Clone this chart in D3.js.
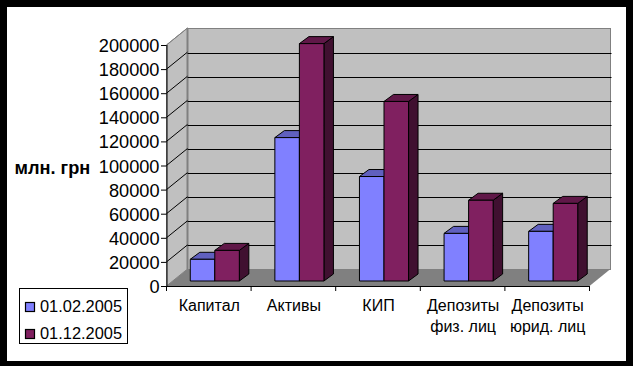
<!DOCTYPE html>
<html>
<head>
<meta charset="utf-8">
<script src="https://cdn.jsdelivr.net/npm/d3@7"></script>
<style>
  html, body { margin: 0; padding: 0; background: #000; }
  svg { display: block; font-family: "Liberation Sans", Arial, sans-serif; }
</style>
</head>
<body>
<div id="chart"></div>
<script>
var categories = ["Капитал", "Активы", "КИП", "Депозиты физ. лиц", "Депозиты юрид. лиц"];
var categoryLines = [["Капитал"], ["Активы"], ["КИП"], ["Депозиты", "физ. лиц"], ["Депозиты", "юрид. лиц"]];
var seriesNames = ["01.02.2005", "01.12.2005"];
var values1 = [18000, 119000, 86700, 39500, 41200];
var values2 = [25400, 197000, 149000, 67000, 64400];
var yTicks = [0, 20000, 40000, 60000, 80000, 100000, 120000, 140000, 160000, 180000, 200000];
var yTitle = "млн. грн";

var w = 633, h = 366;
var left = 166.5, right = 589.5, top0 = 45, bottom = 286; // front plane of the plot
var wallDx = 21, wallDy = 17;  // depth of the whole box
var barOffX = 6, barOffY = 5;  // where bars stand on the floor
var barDx = 9.5, barDy = 7;    // depth of one bar

var frontColors = ["#8080ff", "#802060"];
var topColors = ["#6060bf", "#601848"];
var sideColors = ["#404080", "#401030"];

var x = d3.scaleBand().domain(categories).range([left, right]).paddingInner(0.42).paddingOuter(0.21);
var xInner = d3.scaleBand().domain(d3.range(2)).range([0, x.bandwidth()]);
var y = d3.scaleLinear().domain([0, 200000]).range([bottom, top0]);

var svg = d3.select("#chart").append("svg").attr("width", w).attr("height", h);

// white page inside the black frame
svg.append("rect").attr("x", 7).attr("y", 7).attr("width", 619).attr("height", 354).attr("fill", "#fff");

function pts(a) { return a.map(function(p) { return p.join(","); }).join(" "); }

// back wall, side wall, floor
svg.append("rect")
   .attr("x", left + wallDx).attr("y", top0 - wallDy + 0.5)
   .attr("width", right - left).attr("height", bottom - top0)
   .attr("fill", "#c0c0c0").attr("stroke", "#808080").attr("stroke-width", 1);
svg.append("polygon")
   .attr("points", pts([[left, top0], [left + wallDx, top0 - wallDy], [left + wallDx, bottom - wallDy], [left, bottom]]))
   .attr("fill", "#c0c0c0").attr("stroke", "#808080");
svg.append("line")
   .attr("x1", left + wallDx).attr("x2", left + wallDx)
   .attr("y1", top0 - wallDy).attr("y2", bottom - wallDy)
   .attr("stroke", "#808080").attr("stroke-width", 2);
svg.append("polygon")
   .attr("points", pts([[left, bottom], [left + wallDx, bottom - wallDy], [right + wallDx, bottom - wallDy], [right, bottom]]))
   .attr("fill", "#808080");

// grid lines on both walls
var grid = yTicks.filter(function(d) { return d > 0 && d < 200000; });
svg.selectAll(".grid").data(grid).enter().append("line")
   .attr("x1", left + wallDx).attr("x2", right + wallDx + 1)
   .attr("y1", function(d) { return Math.ceil(y(d) - wallDy) + 0.5; })
   .attr("y2", function(d) { return Math.ceil(y(d) - wallDy) + 0.5; })
   .attr("stroke", "#000").attr("stroke-width", 1);
svg.selectAll(".gridSide").data(yTicks.slice(1)).enter().append("line")
   .attr("x1", left).attr("x2", left + wallDx)
   .attr("y1", function(d) { return y(d); })
   .attr("y2", function(d) { return y(d) - wallDy; })
   .attr("stroke", function(d) { return d == 200000 ? "#808080" : "#000"; });

// bars
[values1, values2].forEach(function(vals, s) {
    var g = svg.append("g").attr("stroke", "#000").attr("stroke-width", 1).attr("stroke-linejoin", "round");
    categories.forEach(function(c, i) {
        var x0 = x(c) + xInner(s) + barOffX;
        var x1 = x0 + xInner.bandwidth();
        var y0 = y(0) - barOffY;
        var y1 = y(vals[i]) - barOffY;
        g.append("polygon")
         .attr("points", pts([[x1, y1], [x1 + barDx, y1 - barDy], [x1 + barDx, y0 - barDy], [x1, y0]]))
         .attr("fill", sideColors[s]);
        g.append("polygon")
         .attr("points", pts([[x0, y1], [x0 + barDx, y1 - barDy], [x1 + barDx, y1 - barDy], [x1, y1]]))
         .attr("fill", topColors[s]);
        g.append("rect")
         .attr("x", x0).attr("y", y1)
         .attr("width", x1 - x0).attr("height", y0 - y1)
         .attr("fill", frontColors[s]);
    });
});

// y axis
var yAxis = svg.append("g")
   .attr("transform", "translate(" + left + ",0)")
   .call(d3.axisLeft(y).tickValues(yTicks).tickFormat(d3.format("d")).tickSize(5.5).tickPadding(1.5));
yAxis.selectAll("text").attr("font-size", 18.2).attr("font-family", null).attr("fill", "#000").attr("dy", "0.36em");
yAxis.select(".domain").attr("d", "M0.5," + top0 + "V" + bottom);

// x axis, ticks sit between the categories
var xAxis = svg.append("g")
   .attr("transform", "translate(0," + bottom + ")")
   .call(d3.axisBottom(x).tickSize(0).tickPadding(0));
xAxis.select(".domain").attr("d", "M" + left + ",0.5H" + right);
xAxis.selectAll("text")
   .attr("font-size", 16).attr("font-family", null).attr("fill", "#000").attr("y", 0).attr("dy", null)
   .each(function(d, i) {
       var t = d3.select(this).text(null);
       categoryLines[i].forEach(function(line, k) {
           t.append("tspan").attr("x", 0.5).attr("y", 25 + k * 21).text(line);
       });
   });
svg.selectAll(".xtick").data(d3.range(categories.length + 1)).enter().append("line")
   .attr("x1", function(i) { return left + i * x.step(); })
   .attr("x2", function(i) { return left + i * x.step(); })
   .attr("y1", bottom).attr("y2", bottom + 5)
   .attr("stroke", "#000");

// axis title
svg.append("text").attr("x", 14.5).attr("y", 173.5)
   .attr("font-size", 18.2).attr("font-weight", "bold")
   .text(yTitle);

// legend
var legend = svg.append("g").attr("transform", "translate(19.5,288.5)");
legend.append("rect").attr("width", 108).attr("height", 55).attr("fill", "#fff").attr("stroke", "#000");
seriesNames.forEach(function(name, i) {
    var rowY = 19 + i * 27;
    legend.append("rect").attr("x", 6).attr("y", rowY - 5).attr("width", 9).attr("height", 9)
          .attr("fill", frontColors[i]).attr("stroke", "#000").attr("stroke-width", 1.2);
    legend.append("text").attr("x", 20.5).attr("y", rowY + 4).attr("font-size", 16.4).text(name);
});
</script>
</body>
</html>
